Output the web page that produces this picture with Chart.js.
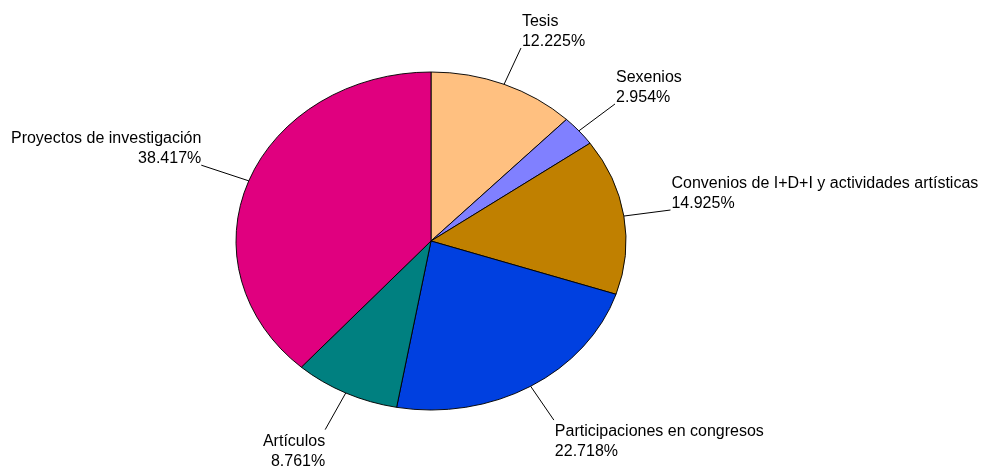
<!DOCTYPE html>
<html><head><meta charset="utf-8">
<script src="https://cdn.jsdelivr.net/npm/chart.js@4"></script>
<style>html,body{margin:0;padding:0;background:#fff;overflow:hidden}#wrap{width:994px;height:471px;position:relative}</style>
</head><body><div id="wrap"><canvas id="c"></canvas></div>
<script>
const categories = ["Tesis", "Sexenios", "Convenios de I+D+I y actividades artísticas", "Participaciones en congresos", "Artículos", "Proyectos de investigación"];
const shares = [12.225, 2.954, 14.925, 22.718, 8.761, 38.417];
const valueLabels = ["12.225%", "2.954%", "14.925%", "22.718%", "8.761%", "38.417%"];
const sliceColors = ["#FFC080", "#8080FF", "#C08000", "#0040E0", "#008080", "#E0007F"];
const leaderLengths = [40, 45, 47, 41, 42, 50];

const K = 169 / 195;
const FONT = '16px "Liberation Sans", Arial, sans-serif';

const ellipsePlugin = {
  id: 'ellipse',
  beforeDatasetsDraw(chart) {
    const a = chart.getDatasetMeta(0).data[0];
    const ctx = chart.ctx;
    ctx.save();
    ctx.translate(a.x, a.y);
    ctx.scale(1, K);
    ctx.translate(-a.x, -a.y);
  },
  afterDatasetsDraw(chart) { chart.ctx.restore(); }
};

const labelPlugin = {
  id: 'pieLabels',
  afterDraw(chart) {
    const ctx = chart.ctx;
    const arcs = chart.getDatasetMeta(0).data;
    ctx.save();
    ctx.font = FONT;
    ctx.fillStyle = '#000';
    ctx.strokeStyle = '#000';
    ctx.lineWidth = 1;
    arcs.forEach((arc, i) => {
      const mid = (arc.startAngle + arc.endAngle) / 2;
      const ex = arc.x + Math.cos(mid) * arc.outerRadius;
      const ey = arc.y + Math.sin(mid) * arc.outerRadius * K;
      let dx = Math.cos(mid), dy = Math.sin(mid) * K;
      const n = Math.hypot(dx, dy); dx /= n; dy /= n;
      const L = leaderLengths[i];
      const ax = ex + dx * L, ay = ey + dy * L;
      ctx.beginPath();
      ctx.moveTo(ex, ey);
      ctx.lineTo(ax, ay);
      ctx.stroke();
      const right = dx >= 0;
      const upper = dy < 0;
      ctx.textAlign = right ? 'left' : 'right';
      ctx.textBaseline = 'alphabetic';
      const tx = right ? ax + 1 : ax;
      const b = upper ? [ay - 22, ay - 2] : [ay + 16, ay + 36];
      ctx.fillText(categories[i], tx, b[0]);
      ctx.fillText(valueLabels[i], tx, b[1]);
    });
    ctx.restore();
  }
};

new Chart(document.getElementById('c'), {
  type: 'pie',
  data: {
    labels: categories,
    datasets: [{
      data: shares,
      backgroundColor: sliceColors,
      borderColor: '#000',
      borderWidth: 1,
      clip: false
    }]
  },
  options: {
    responsive: true,
    maintainAspectRatio: false,
    animation: false,
    radius: 195,
    layout: { padding: { left: 0, right: 132, top: 11, bottom: 0 } },
    plugins: { legend: { display: false }, tooltip: { enabled: false } }
  },
  plugins: [ellipsePlugin, labelPlugin]
});
</script>
</body></html>
